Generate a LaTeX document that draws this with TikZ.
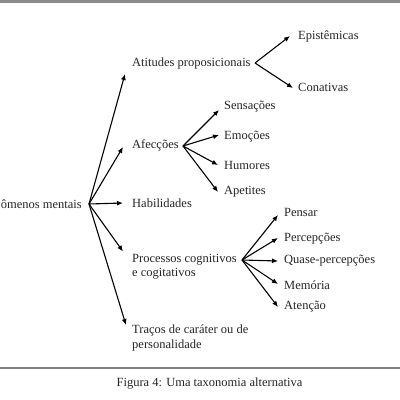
\documentclass[tikz,border=0pt]{standalone}
\usepackage{fontspec}
\setmainfont{Liberation Serif}
\usetikzlibrary{arrows.meta}
\begin{document}
\begin{tikzpicture}[x=1pt,y=-1pt,
  lbl/.style={inner sep=0pt,anchor=west,font=\fontsize{12.5}{14.5}\selectfont,text=black!85},
  arr/.style={line width=1.1pt,-{Latex[length=6pt,width=5pt]}}]
\useasboundingbox (0,0) rectangle (400,400);
\fill[white] (0,0) rectangle (400,400);
\fill[black!45] (0,0) rectangle (400,2.5);
\draw[black!50,line width=1.3pt] (0,368) -- (400,368);

% level 0
\node[lbl,anchor=east] (root) at (82,204) {ômenos mentais};
\coordinate (r) at (89,204);

% level 1
\node[lbl] (atp) at (132,63) {Atitudes proposicionais};
\node[lbl] (afe) at (132,145) {Afecções};
\node[lbl] (hab) at (132,203) {Habilidades};
\node[lbl,align=left] (pro) at (132,266.5) {Processos cognitivos\\e cogitativos};
\node[lbl,align=left] (tra) at (132,338) {Traços de caráter ou de\\personalidade};

% level 2
\node[lbl] (epi) at (298,36) {Epistêmicas};
\node[lbl] (con) at (298,87) {Conativas};
\node[lbl] (sen) at (224,107) {Sensações};
\node[lbl] (emo) at (224,137) {Emoções};
\node[lbl] (hum) at (224,165) {Humores};
\node[lbl] (ape) at (224,192) {Apetites};
\node[lbl] (pen) at (284,212) {Pensar};
\node[lbl] (per) at (284,239) {Percepções};
\node[lbl] (qua) at (284,261) {Quase-percepções};
\node[lbl] (mem) at (284,285) {Memória};
\node[lbl] (ate) at (284,307) {Atenção};

\node[lbl,anchor=center] (cap) at (209.5,384) {Figura 4: Uma taxonomia alternativa};

% branch points
\coordinate (a1) at (255,63);
\coordinate (a2) at (183,146);
\coordinate (p1) at (242,260);

% arrows from root
\draw[arr] (r) -- ([xshift=-7pt,yshift=-11pt]atp.west);
\draw[arr] (r) -- ([xshift=-9pt,yshift=-2pt]afe.west);
\draw[arr] (r) -- ([xshift=-9pt]hab.west);
\draw[arr] (r) -- ([xshift=-9pt,yshift=15pt]pro.west);
\draw[arr] (r) -- ([xshift=-6pt,yshift=13pt]tra.west);

% atitudes
\draw[arr] (a1) -- ([xshift=-8pt]epi.west);
\draw[arr] (a1) -- ([xshift=-5pt,yshift=-1pt]con.west);

% afeccoes
\draw[arr] (a2) -- ([xshift=-5pt,yshift=-3pt]sen.west);
\draw[arr] (a2) -- ([xshift=-5pt,yshift=2pt]emo.west);
\draw[arr] (a2) -- ([xshift=-6pt]hum.west);
\draw[arr] (a2) -- ([xshift=-6pt]ape.west);

% processos
\draw[arr] (p1) -- ([xshift=-6pt,yshift=-3pt]pen.west);
\draw[arr] (p1) -- ([xshift=-6pt,yshift=1pt]per.west);
\draw[arr] (p1) -- ([xshift=-6pt]qua.west);
\draw[arr] (p1) -- ([xshift=-6pt,yshift=1pt]mem.west);
\draw[arr] (p1) -- ([xshift=-6pt]ate.west);
\end{tikzpicture}
\end{document}
